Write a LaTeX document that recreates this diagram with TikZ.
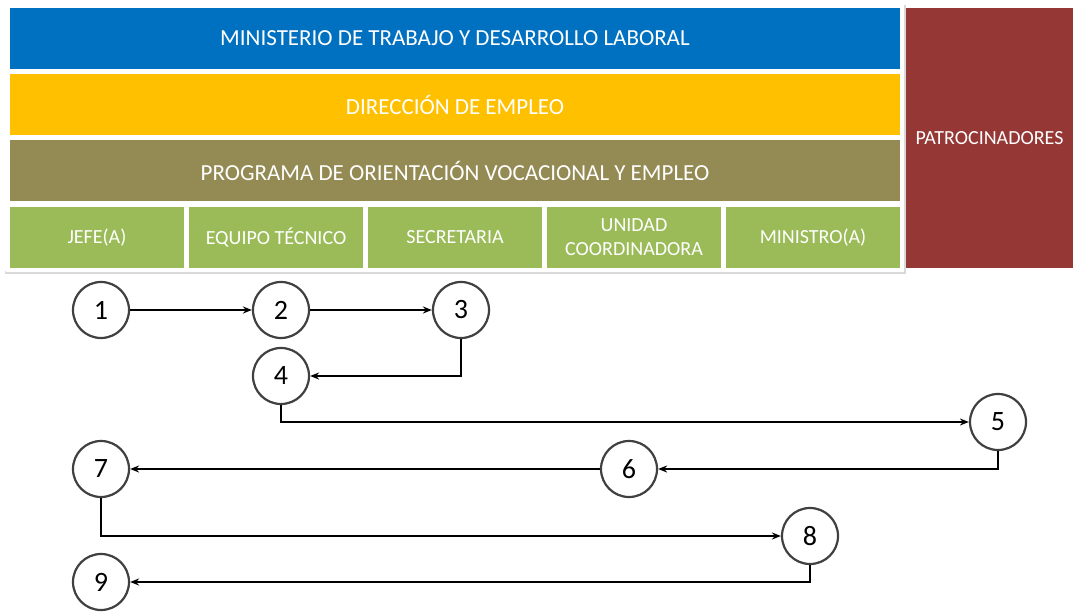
\documentclass[tikz,border=0pt]{standalone}
\usepackage{fontspec}
\setmainfont{Carlito}
\usetikzlibrary{positioning}
\usetikzlibrary{arrows.meta}
\usetikzlibrary{shadows}
\definecolor{azul}{HTML}{0070C0}
\definecolor{amarillo}{HTML}{FFC000}
\definecolor{oliva}{HTML}{948A54}
\definecolor{verde}{HTML}{9BBB59}
\definecolor{rojo}{HTML}{953735}
\tikzset{
    band/.style={
           rectangle,
           text=white,
           minimum width=890pt,
           minimum height=61pt,
           inner sep=0pt,
           text centered,
           font=\fontsize{23}{26}\selectfont,
           },
    cell/.style={
           rectangle,
           fill=verde,
           draw=white, line width=4pt,
           outer sep=0pt,
           drop shadow={shadow xshift=0pt, shadow yshift=-2pt, fill=black!25},
           text=white,
           minimum width=178pt,
           minimum height=65pt,
           inner sep=0pt,
           align=center,
           font=\fontsize{20}{24}\selectfont,
           },
    paso/.style={
           circle,
           draw=black!75, line width=2.2pt,
           fill=white,
           minimum size=56pt,
           inner sep=0pt,
           font=\fontsize{28}{30}\selectfont,
           },
}

\begin{document}
\begin{tikzpicture}[x=1pt, y=-1pt, >={Stealth[length=9pt,width=7pt]}]
      \useasboundingbox (0,0) rectangle (1073,612);
      % marco de la estructura
      \fill[black!15] (5,5) rectangle (906,274);
      \fill[white] (4,2) rectangle (904,271);
      \node[band, fill=azul]     (b_1) at (455,38.5)  {MINISTERIO DE TRABAJO Y DESARROLLO LABORAL};
      \node[band, fill=amarillo] (b_2) at (455,104.5) {DIRECCIÓN DE EMPLEO};
      \node[band, fill=oliva]    (b_3) at (455,171)   {PROGRAMA DE ORIENTACIÓN VOCACIONAL Y EMPLEO};
      \node[cell] (c_1) at (97,237.5)         {JEFE(A)};
      \node[cell] (c_2) [right=1pt of c_1]    {EQUIPO TÉCNICO};
      \node[cell] (c_3) [right=1pt of c_2]    {SECRETARIA};
      \node[cell] (c_4) [right=1pt of c_3]    {UNIDAD\\COORDINADORA};
      \node[cell] (c_5) [right=1pt of c_4]    {MINISTRO(A)};
      \node[band, fill=rojo, minimum width=167pt, minimum height=260pt,
            font=\fontsize{20}{24}\selectfont] (pat) at (989.5,138) {PATROCINADORES};
      % pasos
      \node[paso] (s_1) at (101,310) {1};
      \node[paso] (s_2) at (281,310) {2};
      \node[paso] (s_3) at (461,310) {3};
      \node[paso] (s_4) at (281,376) {4};
      \node[paso] (s_5) at (998,422) {5};
      \node[paso] (s_6) at (629,469) {6};
      \node[paso] (s_7) at (101,469) {7};
      \node[paso] (s_8) at (810,536) {8};
      \node[paso] (s_9) at (101,582) {9};
      \path[->, draw, line width=1.8pt]
      (s_1) edge (s_2)
      (s_2) edge (s_3)
      (s_6) edge (s_7);
      \draw[->, line width=1.8pt] (s_3) |- (s_4);
      \draw[->, line width=1.8pt] (s_4) |- (s_5);
      \draw[->, line width=1.8pt] (s_5) |- (s_6);
      \draw[->, line width=1.8pt] (s_7) |- (s_8);
      \draw[->, line width=1.8pt] (s_8) |- (s_9);
\end{tikzpicture}
\end{document}
